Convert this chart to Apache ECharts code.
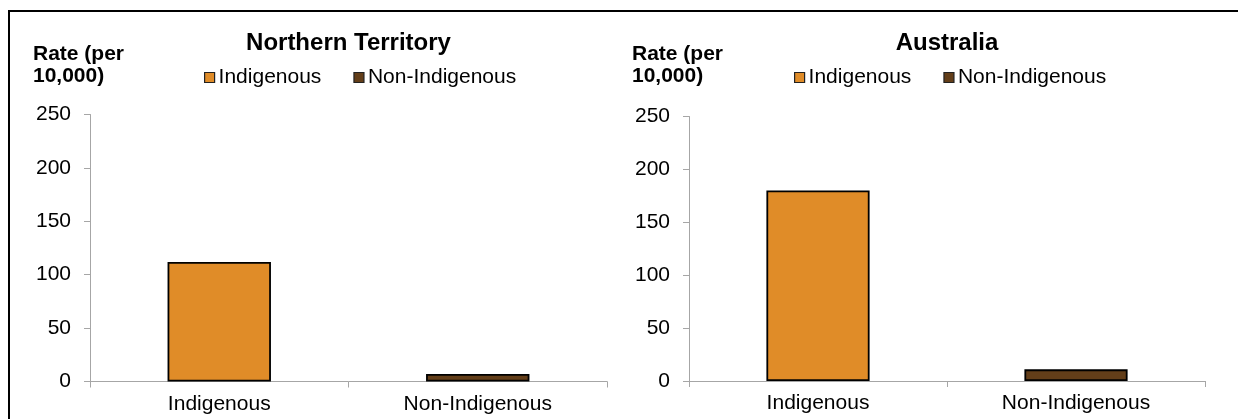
<!DOCTYPE html>
<html>
<head>
<meta charset="utf-8">
<script src="https://cdn.jsdelivr.net/npm/echarts@6/dist/echarts.min.js"></script>
<style>
html,body{margin:0;padding:0;background:#fff;}
#chart{width:1238px;height:419px;}
</style>
</head>
<body>
<div id="chart"></div>
<script>
// ---- data ----
const categories = ['Indigenous', 'Non-Indigenous'];
const seriesNames = ['Indigenous', 'Non-Indigenous'];
const ntValues = [112, 7];      // Northern Territory, rate per 10,000
const ausValues = [180, 11];    // Australia, rate per 10,000
const yTicks = [0, 50, 100, 150, 200, 250];
const panelTitles = ['Northern Territory', 'Australia'];
const yAxisName = 'Rate (per\n10,000)';

const colors = ['#E08C28', '#633E19'];
const FONT = 'Arial, "Liberation Sans", sans-serif';
const axisGrey = '#A6A6A6';

const chart = echarts.init(document.getElementById('chart'), null, {renderer: 'canvas'});

const grids = [
  {left: 90, right: 631, top: 114.5, bottom: 37.5},
  {left: 689, right: 33, top: 116.5, bottom: 38}
];

function xAxis(i) {
  return {
    type: 'category', gridIndex: i, data: categories,
    axisLine: {show: true, lineStyle: {color: axisGrey, width: 1}},
    axisTick: {show: true, alignWithLabel: false, length: 6, lineStyle: {color: axisGrey}},
    axisLabel: {color: '#000', fontFamily: FONT, fontSize: 21, margin: 12},
    splitLine: {show: false}
  };
}
function yAxis(i) {
  return {
    type: 'value', gridIndex: i, min: yTicks[0], max: yTicks[yTicks.length - 1],
    interval: yTicks[1] - yTicks[0],
    axisLine: {show: true, lineStyle: {color: axisGrey, width: 1}},
    axisTick: {show: true, length: 6, lineStyle: {color: axisGrey}},
    axisLabel: {color: '#000', fontFamily: FONT, fontSize: 21, margin: 19},
    splitLine: {show: false}
  };
}
function makeSeries(values, i) {
  return seriesNames.map((name, k) => ({
    name: name, type: 'bar', xAxisIndex: i, yAxisIndex: i, stack: 'p' + i,
    barCategoryGap: '60%',
    data: categories.map((c, j) => (j === k ? values[j] : '-')),
    itemStyle: {color: colors[k], borderColor: '#000', borderWidth: 1.8},
    emphasis: {disabled: true},
    animation: false
  }));
}

const legendBase = {
  orient: 'horizontal', top: 62, itemWidth: 10, itemHeight: 10, itemGap: 32,
  icon: 'rect',
  itemStyle: {borderColor: '#222', borderWidth: 1.2},
  textStyle: {color: '#000', fontFamily: FONT, fontSize: 21, padding: [0, 0, 0, -1]},
  selectedMode: false,
  data: seriesNames
};

const centers = [348.5, 947];
const graphics = [
  {type: 'rect', shape: {x: 9, y: 11, width: 1400, height: 600},
   style: {fill: 'none', stroke: '#000', lineWidth: 2}, silent: true}
];
panelTitles.forEach((t, i) => {
  graphics.push({type: 'text', x: centers[i], y: 43,
    style: {text: t, font: 'bold 24px ' + FONT, fill: '#000', textAlign: 'center', textVerticalAlign: 'middle'}});
});
[33, 632].forEach(x => {
  graphics.push({type: 'text', x: x, y: 43,
    style: {text: yAxisName, font: 'bold 21px ' + FONT, fill: '#000', lineHeight: 22, textAlign: 'left', textVerticalAlign: 'top'}});
});

chart.setOption({
  animation: false,
  grid: grids,
  xAxis: [xAxis(0), xAxis(1)],
  yAxis: [yAxis(0), yAxis(1)],
  legend: [
    Object.assign({}, legendBase, {left: 199}),
    Object.assign({}, legendBase, {left: 789})
  ],
  series: makeSeries(ntValues, 0).concat(makeSeries(ausValues, 1)),
  graphic: graphics
});
</script>
</body>
</html>
